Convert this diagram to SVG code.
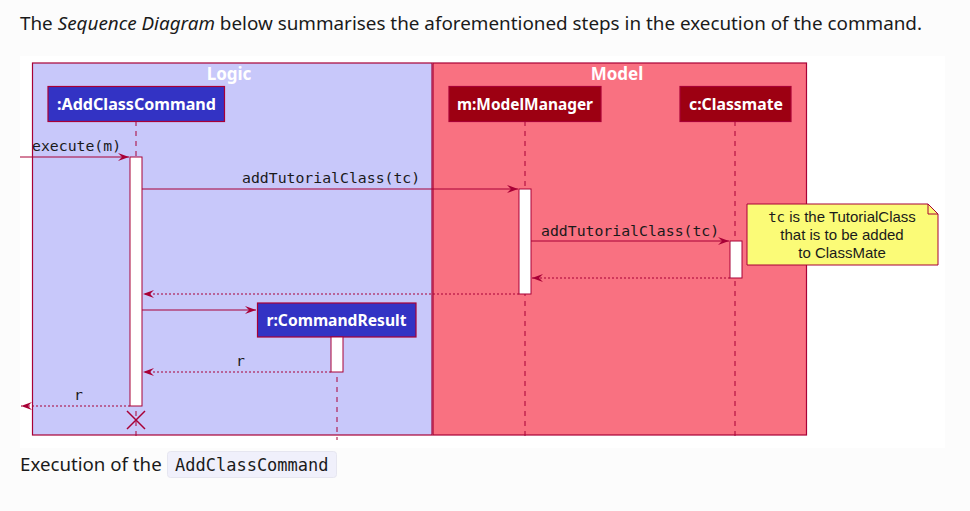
<svg xmlns="http://www.w3.org/2000/svg" width="970" height="511" viewBox="0 0 970 511">
<defs>
<style>
.pg{font-family:"Noto Sans","Open Sans",sans-serif;font-size:18.7px;fill:#1a1a1a}
.box{stroke:#A80036;stroke-width:1.2}
.ttl{font-family:"Noto Sans","Open Sans",sans-serif;font-weight:bold;font-size:17px;fill:#ffffff;text-anchor:middle}
.pt{font-family:"Noto Sans","Open Sans",sans-serif;font-weight:bold;font-size:15.5px;fill:#ffffff;text-anchor:middle}
.life{stroke:#A80036;stroke-width:1;stroke-dasharray:5,5;fill:none}
.act{fill:#ffffff;stroke:#A80036;stroke-width:1}
.msg{stroke:#A80036;stroke-width:1;fill:none}
.ret{stroke:#A80036;stroke-width:1;stroke-dasharray:2,2;fill:none}
.ml{font-family:"DejaVu Sans Mono","Liberation Mono",monospace;font-size:14.8px;fill:#1a1a1a}
.nt{font-family:"Liberation Sans",Arial,sans-serif;font-size:15px;fill:#1a1a1a;text-anchor:middle}
.mono{font-family:"DejaVu Sans Mono","Liberation Mono",monospace;font-size:14px}
</style>
<marker id="ah" markerWidth="12" markerHeight="10" viewBox="0 0 12 10" refX="11" refY="5" orient="auto" markerUnits="userSpaceOnUse">
<polygon points="0,1 11,5 0,9 4,5" fill="#A80036"/>
</marker>
</defs>
<rect x="0" y="0" width="970" height="511" fill="#fcfcfc"/>
<text class="pg" x="20" y="30" textLength="902" lengthAdjust="spacingAndGlyphs">The <tspan font-style="italic">Sequence Diagram</tspan> below summarises the aforementioned steps in the execution of the command.</text>
<rect x="20" y="56" width="925" height="392" fill="#ffffff"/>

<g id="box-logic">
<rect class="box" x="32.5" y="63" width="399.5" height="372" fill="#C8C8FA"/>
<text class="ttl" x="229" y="80">Logic</text>
</g>
<g id="box-model">
<rect class="box" x="433" y="63" width="373.5" height="372" fill="#F97181"/>
<text class="ttl" x="617" y="80">Model</text>
</g>

<g id="lifelines">
<line class="life" x1="136" y1="121" x2="136" y2="440"/>
<line class="life" x1="525" y1="121" x2="525" y2="440"/>
<line class="life" x1="735" y1="121" x2="735" y2="440"/>
<line class="life" x1="337" y1="337" x2="337" y2="440"/>
</g>

<g id="p-addclasscommand">
<rect class="box" x="48" y="86.5" width="176.5" height="35" fill="#3333C4"/>
<text class="pt" x="136.5" y="109.5" textLength="159" lengthAdjust="spacingAndGlyphs">:AddClassCommand</text>
<rect class="act" x="130" y="157" width="12" height="249"/>
<path d="M127,411 L145,429 M145,411 L127,429" stroke="#A80036" stroke-width="1.5"/>
</g>
<g id="p-modelmanager">
<rect class="box" x="449" y="86.5" width="152" height="35" fill="#9D0012"/>
<text class="pt" x="525" y="109.5" textLength="136" lengthAdjust="spacingAndGlyphs">m:ModelManager</text>
<rect class="act" x="519" y="189" width="12" height="105"/>
</g>
<g id="p-classmate">
<rect class="box" x="680" y="86.5" width="111" height="35" fill="#9D0012"/>
<text class="pt" x="736" y="109.5" textLength="94" lengthAdjust="spacingAndGlyphs">c:Classmate</text>
<rect class="act" x="730" y="241" width="12" height="37"/>
</g>
<g id="p-commandresult">
<rect class="box" x="257.5" y="303" width="158.5" height="34" fill="#3333C4"/>
<text class="pt" x="336.5" y="326" textLength="140" lengthAdjust="spacingAndGlyphs">r:CommandResult</text>
<rect class="act" x="331" y="337" width="12" height="35"/>
</g>

<g id="note">
<polygon points="747,204 928,204 938,214 938,265 747,265" fill="#FBFB77" stroke="#A80036" stroke-width="1"/>
<polyline points="928,204 928,214 938,214" fill="none" stroke="#A80036" stroke-width="1"/>
<text class="nt" x="842" y="222"><tspan class="mono">tc</tspan> is the TutorialClass</text>
<text class="nt" x="842" y="240">that is to be added</text>
<text class="nt" x="842" y="258">to ClassMate</text>
</g>

<g id="connectors">
<line class="msg" x1="20" y1="157" x2="129" y2="157" marker-end="url(#ah)"/>
<text class="ml" x="32" y="151">execute(m)</text>
<line class="msg" x1="142" y1="189" x2="518" y2="189" marker-end="url(#ah)"/>
<text class="ml" x="242" y="183">addTutorialClass(tc)</text>
<line class="msg" x1="531" y1="241" x2="729" y2="241" marker-end="url(#ah)"/>
<text class="ml" x="541" y="236">addTutorialClass(tc)</text>
<line class="ret" x1="730" y1="278" x2="532" y2="278" marker-end="url(#ah)"/>
<line class="ret" x1="519" y1="294" x2="143" y2="294" marker-end="url(#ah)"/>
<line class="msg" x1="142" y1="310" x2="256" y2="310" marker-end="url(#ah)"/>
<line class="ret" x1="331" y1="372" x2="143" y2="372" marker-end="url(#ah)"/>
<text class="ml" x="236" y="366">r</text>
<line class="ret" x1="130" y1="406" x2="21" y2="406" marker-end="url(#ah)"/>
<text class="ml" x="74" y="400">r</text>
</g>

<text class="pg" x="20" y="471">Execution of the</text>
<rect x="167.5" y="451.5" width="169" height="26" rx="3" fill="#f0f0fb" stroke="#e6e6f0"/>
<text x="175" y="471" font-family="DejaVu Sans Mono,Liberation Mono,monospace" font-size="17" fill="#1a1a1a">AddClassCommand</text>
</svg>
